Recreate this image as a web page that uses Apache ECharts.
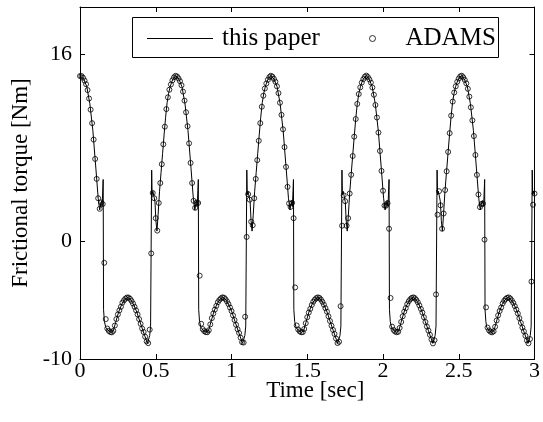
<!DOCTYPE html>
<html>
<head>
<meta charset="utf-8">
<script src="https://cdn.jsdelivr.net/npm/echarts@6/dist/echarts.min.js"></script>
<style>html,body{margin:0;padding:0;background:#fff}#c{width:543px;height:422px}</style>
</head>
<body>
<div id="c"></div>
<script>
// ---- data ----
const seriesNames = ['this paper', 'ADAMS'];
const xTickLabels = ['0', '0.5', '1', '1.5', '2', '2.5', '3'];
const yTickValues = [-10, 0, 16];

// "this paper" curve (time [s], torque [Nm])
const lineTime = [
  0, 0.005, 0.025, 0.045, 0.065, 0.085, 0.105, 0.12, 0.13, 0.137, 0.143, 0.146, 0.153, 0.1555, 0.161, 0.17, 0.185, 0.205, 0.22, 0.235, 0.255, 0.275, 0.295, 0.315, 0.335, 0.355, 0.375, 0.395, 0.415, 0.435, 0.445, 0.453, 0.46, 0.466, 0.473, 0.476, 0.481, 0.489, 0.495, 0.501, 0.508, 0.515, 0.525, 0.535, 0.545, 0.555, 0.565, 0.575, 0.585, 0.595, 0.605, 0.615,
  0.633, 0.653, 0.673, 0.693, 0.713, 0.733, 0.748, 0.758, 0.765, 0.771, 0.774, 0.781, 0.7835, 0.789, 0.798, 0.813, 0.833, 0.848, 0.863, 0.883, 0.903, 0.923, 0.943, 0.963, 0.983, 1.003, 1.023, 1.043, 1.063, 1.073, 1.081, 1.088, 1.094, 1.101, 1.104, 1.109, 1.117, 1.123, 1.129, 1.136, 1.143, 1.153, 1.163, 1.173, 1.183, 1.193, 1.203, 1.213, 1.223, 1.233, 1.243,
  1.261, 1.281, 1.301, 1.321, 1.341, 1.361, 1.376, 1.386, 1.393, 1.399, 1.402, 1.409, 1.4115, 1.417, 1.426, 1.441, 1.461, 1.476, 1.491, 1.511, 1.531, 1.551, 1.571, 1.591, 1.611, 1.631, 1.651, 1.671, 1.691, 1.701, 1.709, 1.716, 1.722, 1.729, 1.732, 1.737, 1.745, 1.751, 1.757, 1.764, 1.771, 1.781, 1.791, 1.801, 1.811, 1.821, 1.831, 1.841, 1.851, 1.861, 1.871,
  1.889, 1.909, 1.929, 1.949, 1.969, 1.989, 2.004, 2.014, 2.021, 2.027, 2.033, 2.040, 2.0425, 2.048, 2.056, 2.069, 2.089, 2.104, 2.119, 2.139, 2.159, 2.179, 2.199, 2.219, 2.239, 2.259, 2.279, 2.299, 2.319, 2.329, 2.337, 2.344, 2.35, 2.357, 2.36, 2.365, 2.373, 2.379, 2.385, 2.392, 2.399, 2.409, 2.419, 2.429, 2.439, 2.449, 2.459, 2.469, 2.479, 2.489, 2.499,
  2.517, 2.537, 2.557, 2.577, 2.597, 2.617, 2.632, 2.642, 2.649, 2.655, 2.664, 2.671, 2.6735, 2.679, 2.685, 2.697, 2.717, 2.732, 2.747, 2.767, 2.787, 2.807, 2.827, 2.847, 2.867, 2.887, 2.907, 2.927, 2.947, 2.957, 2.965, 2.972, 2.978, 2.985, 2.988, 2.993, 3.0
];
const lineValue = [
  14.12, 14.15, 13.85, 13.2, 11.75, 9.45, 6.2, 3.7, 2.7, 3.2, 3.5, 3.0, 5.3, -5.8, -6.8, -7.3, -7.55, -7.72, -7.6, -6.9, -6.0, -5.35, -4.92, -4.75, -4.95, -5.4, -6.0, -6.8, -7.55, -8.3, -8.67, -8.6, -8.0, -7.2, 6.1, 4.0, 4.3, 3.8, 3.4, 1.8, 0.9, 2.2, 4.3, 5.9, 7.5, 9.1, 10.6, 11.85, 12.65, 13.2, 13.6, 13.88,
  14.15, 13.85, 13.2, 11.75, 9.45, 6.2, 3.7, 2.7, 3.2, 3.5, 3.0, 5.3, -5.8, -6.8, -7.3, -7.55, -7.72, -7.6, -6.9, -6.0, -5.35, -4.92, -4.75, -4.95, -5.4, -6.0, -6.8, -7.55, -8.3, -8.67, -8.6, -8.0, -7.2, 6.1, 4.0, 4.3, 3.8, 3.4, 1.8, 0.9, 2.2, 4.3, 5.9, 7.5, 9.1, 10.6, 11.85, 12.65, 13.2, 13.6, 13.88,
  14.15, 13.85, 13.2, 11.75, 9.45, 6.2, 3.7, 2.7, 3.2, 3.5, 3.0, 5.3, -5.8, -6.8, -7.3, -7.55, -7.72, -7.6, -6.9, -6.0, -5.35, -4.92, -4.75, -4.95, -5.4, -6.0, -6.8, -7.55, -8.3, -8.67, -8.6, -8.0, -7.2, 6.1, 4.0, 4.3, 3.8, 3.4, 1.8, 0.9, 2.2, 4.3, 5.9, 7.5, 9.1, 10.6, 11.85, 12.65, 13.2, 13.6, 13.88,
  14.15, 13.85, 13.2, 11.75, 9.45, 6.2, 3.7, 2.7, 3.2, 3.5, 3.0, 5.3, -5.8, -6.8, -7.3, -7.55, -7.72, -7.6, -6.9, -6.0, -5.35, -4.92, -4.75, -4.95, -5.4, -6.0, -6.8, -7.55, -8.3, -8.67, -8.6, -8.0, -7.2, 6.1, 4.0, 4.3, 3.8, 3.4, 1.8, 0.9, 2.2, 4.3, 5.9, 7.5, 9.1, 10.6, 11.85, 12.65, 13.2, 13.6, 13.88,
  14.15, 13.85, 13.2, 11.75, 9.45, 6.2, 3.7, 2.7, 3.2, 3.5, 3.0, 5.3, -5.8, -6.8, -7.3, -7.55, -7.72, -7.6, -6.9, -6.0, -5.35, -4.92, -4.75, -4.95, -5.4, -6.0, -6.8, -7.55, -8.3, -8.67, -8.6, -8.0, -7.2, 6.1, 4.0, 4.3, 3.85
];

// ADAMS samples, one every 0.01 s from 0 to 3 s
const adamsStep = 0.01;
const adamsValue = [
  14.11,
  14.12, 13.97, 13.73, 13.42, 12.92, 12.2, 11.25, 10.1, 8.7, 7.05, 5.35, 3.7, 2.8, 3.35, 3.2, -1.8, -6.6, -7.4, -7.6, -7.7, -7.73, -7.6, -7.15, -6.6, -6.2, -5.85, -5.55, -5.2, -5.0, -4.85, -4.76, -4.76, -4.87, -5.05, -5.27, -5.55, -5.85, -6.2, -6.6, -7.0, -7.4, -7.7, -8.1, -8.5, -8.65, -7.5, -1.0, 4.15, 3.7, 2.0, 0.94, 3.3, 5.0, 6.6, 8.3, 9.8, 11.3, 12.3, 12.95, 13.4, 13.75, 14.0, 14.13,
  14.09, 13.92, 13.68, 13.33, 12.79, 12.02, 11.03, 9.84, 8.38, 6.71, 5.0, 3.48, 2.88, 3.33, 3.3, -2.9, -7.0, -7.45, -7.62, -7.71, -7.72, -7.55, -7.05, -6.52, -6.12, -5.79, -5.47, -5.16, -4.97, -4.83, -4.75, -4.77, -4.9, -5.09, -5.32, -5.61, -5.91, -6.28, -6.68, -7.08, -7.46, -7.78, -8.18, -8.57, -8.6, -6.4, 0.4, 4.05, 3.58, 1.7, 1.4, 3.7, 5.35, 6.95, 8.6, 10.1, 11.5, 12.44, 13.05, 13.48, 13.8, 14.03, 14.14,
  14.06, 13.87, 13.63, 13.24, 12.66, 11.84, 10.81, 9.58, 8.06, 6.37, 4.67, 3.26, 2.96, 3.31, 2.0, -3.9, -7.14, -7.48, -7.64, -7.72, -7.71, -7.44, -6.95, -6.44, -6.04, -5.73, -5.39, -5.12, -4.94, -4.81, -4.75, -4.79, -4.93, -5.13, -5.37, -5.67, -5.97, -6.36, -6.76, -7.16, -7.52, -7.86, -8.26, -8.64, -8.53, -5.5, 1.36, 3.95, 3.45, 1.35, 2.0, 4.1, 5.7, 7.3, 8.95, 10.45, 11.74, 12.58, 13.15, 13.56, 13.85, 14.06,
  14.15, 14.03, 13.83, 13.56, 13.14, 12.52, 11.65, 10.58, 9.3, 7.73, 6.03, 4.34, 3.08, 3.07, 3.28, 1.1, -4.8, -7.24, -7.52, -7.66, -7.72, -7.68, -7.35, -6.84, -6.36, -5.97, -5.67, -5.32, -5.08, -4.91, -4.79, -4.75, -4.81, -4.97, -5.17, -5.43, -5.73, -6.04, -6.44, -6.84, -7.24, -7.58, -7.94, -8.34, -8.67, -8.4, -4.5, 2.3, 4.3, 3.1, 1.1, 2.4, 4.4, 6.0, 7.65, 9.25, 10.74, 11.94, 12.71, 13.24, 13.63, 13.9, 14.09,
  14.14, 14.0, 13.78, 13.49, 13.03, 12.36, 11.45, 10.34, 9.0, 7.39, 5.69, 4.02, 2.94, 3.21, 3.25, 0.17, -5.6, -7.32, -7.56, -7.68, -7.73, -7.64, -7.25, -6.72, -6.28, -5.91, -5.61, -5.26, -5.04, -4.88, -4.78, -4.75, -4.84, -5.01, -5.22, -5.49, -5.79, -6.12, -6.52, -6.92, -7.32, -7.64, -8.02, -8.42, -8.66, -8.3, -3.4, 3.15, 4.1
];

// ---- chart ----
const FONT = "'Liberation Serif', 'Times New Roman', serif";
const lineData = lineTime.map((t, i) => [t, lineValue[i]]);
const adamsData = adamsValue.map((v, i) => [+(i * adamsStep).toFixed(2), v]);

const chart = echarts.init(document.getElementById('c'), null, { renderer: 'canvas' });
const axisLineStyle = { show: true, onZero: false, lineStyle: { color: '#000', width: 1 } };
const xCommon = {
  type: 'value', min: 0, max: 3, interval: 0.5,
  axisLine: axisLineStyle, splitLine: { show: false },
  axisTick: { show: true, inside: true, length: 5, lineStyle: { color: '#000' } }
};
const yCommon = {
  type: 'value', min: -10, max: 20,
  axisLine: axisLineStyle, splitLine: { show: false },
  axisTick: { show: true, inside: true, length: 5, customValues: yTickValues, lineStyle: { color: '#000' } }
};

chart.setOption({
  animation: false,
  backgroundColor: '#fff',
  grid: { left: 80, right: 6, top: 7, bottom: 63 },
  xAxis: [
    Object.assign({}, xCommon, {
      position: 'bottom',
      name: 'Time [sec]', nameLocation: 'middle', nameGap: 20, nameMoveOverlap: false,
      nameTextStyle: { fontFamily: FONT, fontSize: 23, color: '#000', padding: [0, 0, 0, 16] },
      axisLabel: {
        show: true, margin: 1, fontFamily: FONT, fontSize: 22, color: '#000',
        formatter: (v) => xTickLabels[Math.round(v / 0.5)] ?? ''
      }
    }),
    Object.assign({}, xCommon, { position: 'top', axisLabel: { show: false } })
  ],
  yAxis: [
    Object.assign({}, yCommon, {
      position: 'left',
      name: 'Frictional torque [Nm]', nameLocation: 'middle', nameGap: 48, nameRotate: 90, nameMoveOverlap: false,
      nameTextStyle: { fontFamily: FONT, fontSize: 23, color: '#000' },
      axisLabel: { show: true, margin: 8, fontFamily: FONT, fontSize: 22, color: '#000', customValues: yTickValues }
    }),
    Object.assign({}, yCommon, { position: 'right', axisLabel: { show: false } })
  ],
  graphic: [{
    type: 'rect', z: 1,
    shape: { x: 132.5, y: 17.5, width: 366, height: 40 },
    style: { fill: '#fff', stroke: '#000', lineWidth: 1 }
  }],
  legend: [
    {
      data: [{ name: seriesNames[0], icon: 'rect' }], left: 147, top: 26, padding: 0,
      itemWidth: 66, itemHeight: 1.2, selectedMode: false, z: 5,
      itemStyle: { color: '#000', borderWidth: 0 },
      textStyle: { fontFamily: FONT, fontSize: 25, color: '#000', padding: [0, 0, 0, 4] }
    },
    {
      data: [{ name: seriesNames[1], icon: 'circle' }], left: 369, top: 26, padding: 0,
      itemWidth: 6, itemHeight: 6, selectedMode: false, z: 5,
      itemStyle: { color: 'rgba(255,255,255,0)', borderColor: '#000', borderWidth: 1 },
      textStyle: { fontFamily: FONT, fontSize: 25, color: '#000', padding: [0, 0, 0, 25] }
    }
  ],
  series: [
    {
      name: seriesNames[0], type: 'line', data: lineData, symbol: 'none',
      lineStyle: { color: '#000', width: 1 }, itemStyle: { color: '#000' },
      xAxisIndex: 0, yAxisIndex: 0, z: 2
    },
    {
      name: seriesNames[1], type: 'scatter', data: adamsData, symbol: 'circle', symbolSize: 5,
      itemStyle: { color: 'rgba(255,255,255,0)', borderColor: '#000', borderWidth: 1 },
      xAxisIndex: 0, yAxisIndex: 0, z: 3
    }
  ]
});
</script>
</body>
</html>
